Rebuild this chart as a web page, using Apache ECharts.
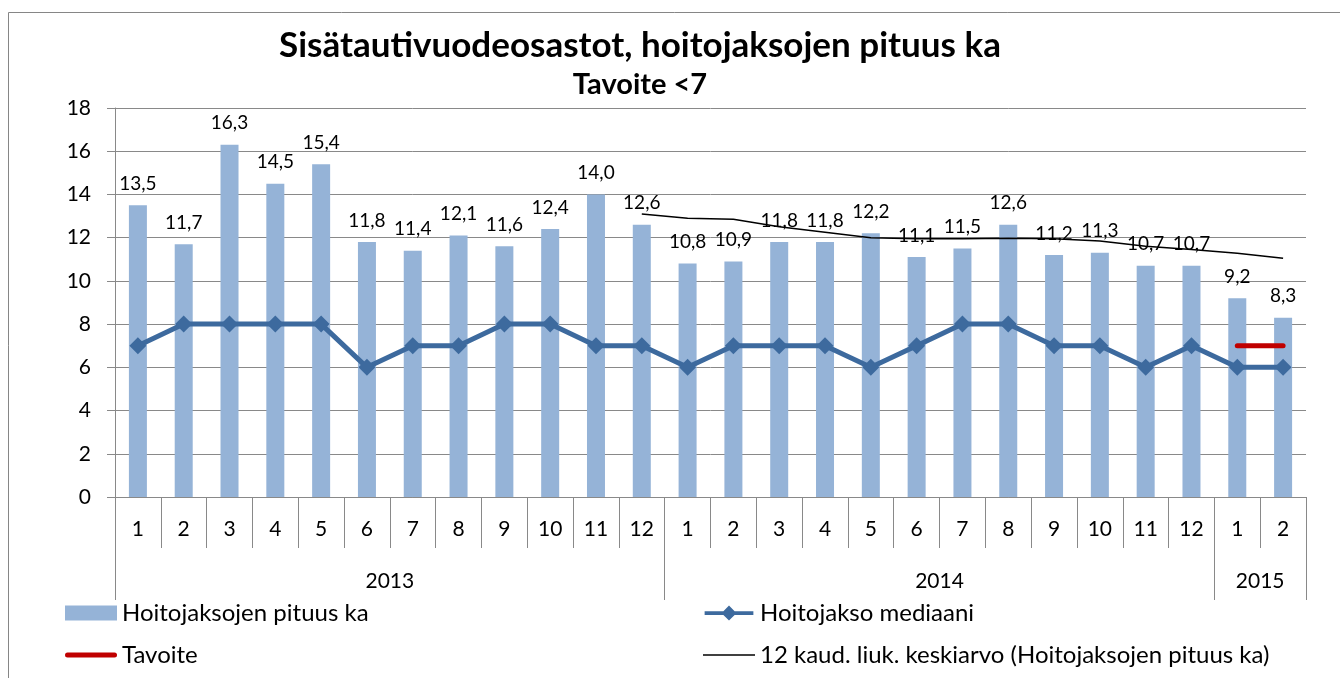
<!DOCTYPE html>
<html>
<head>
<meta charset="utf-8">
<script src="https://cdn.jsdelivr.net/npm/echarts@6/dist/echarts.min.js"></script>
<style>
  html, body { margin: 0; padding: 0; background: #fff; }
  #chart { width: 1340px; height: 678px; }
</style>
</head>
<body>
<div id="chart"></div>
<script>
// kuukaudet ja vuodet (x-akseli)
const months = ['1', '2', '3', '4', '5', '6', '7', '8', '9', '10', '11', '12',
  '1', '2', '3', '4', '5', '6', '7', '8', '9', '10', '11', '12',
  '1', '2'];
const years = ['2013', '2014', '2015'];
const yearMonths = [12, 12, 2]; // montako kuukautta kullakin vuodella

// Hoitojaksojen pituus ka (pylväät)
const avgLength = [13.5, 11.7, 16.3, 14.5, 15.4, 11.8, 11.4, 12.1, 11.6, 12.4, 14.0, 12.6,
  10.8, 10.9, 11.8, 11.8, 12.2, 11.1, 11.5, 12.6, 11.2, 11.3, 10.7, 10.7,
  9.2, 8.3];
// Hoitojakso mediaani
const median = [7, 8, 8, 8, 8, 6, 7, 7, 8, 8, 7, 7,
  6, 7, 7, 7, 6, 7, 8, 8, 7, 7, 6, 7,
  6, 6];
// Tavoite (vain 2015)
const target = [null, null, null, null, null, null, null, null, null, null, null, null,
  null, null, null, null, null, null, null, null, null, null, null, null,
  7, 7];
// 12 kaud. liukuva keskiarvo
const movingAvg = [null, null, null, null, null, null, null, null, null, null, null, 13.1,
  12.9, 12.85, 12.5, 12.25, 12.0, 11.95, 11.95, 11.97, 11.95, 11.85, 11.6, 11.45,
  11.28, 11.05];

const yTicks = { min: 0, max: 18, interval: 2 };

// vuosiryhmien rajat ja keskikohdat
let yearBounds = [0];
let yearCenters = [];
yearMonths.forEach(function (n) {
  let start = yearBounds[yearBounds.length - 1];
  yearCenters.push(start + n / 2);
  yearBounds.push(start + n);
});

let fontFamily = 'Lato, "Open Sans", sans-serif';
let gridColor = '#898989';
let legendText = { fontFamily: fontFamily, fontSize: 24, color: '#000', lineHeight: 24 };

let myChart = echarts.init(document.getElementById('chart'));
let option = {
  animation: false,
  textStyle: { fontFamily: fontFamily, color: '#000' },
  graphic: [{
    type: 'rect',
    shape: { x: 8.5, y: 12.5, width: 1400, height: 700 },
    style: { fill: 'none', stroke: '#868686', lineWidth: 1 },
    silent: true
  }],
  title: [{
    text: 'Sisätautivuodeosastot, hoitojaksojen pituus ka',
    left: 640,
    top: 28,
    textAlign: 'center',
    padding: 0,
    textStyle: { fontFamily: fontFamily, fontSize: 35, fontWeight: 'bold', color: '#000' }
  }, {
    text: 'Tavoite <7',
    left: 640,
    top: 70,
    textAlign: 'center',
    padding: 0,
    textStyle: { fontFamily: fontFamily, fontSize: 29, fontWeight: 'bold', color: '#000' }
  }],
  legend: [{
    orient: 'vertical',
    left: 65,
    top: 601,
    padding: 0,
    itemWidth: 52,
    itemHeight: 15,
    itemGap: 18,
    textStyle: legendText,
    data: [
      { name: 'Hoitojaksojen pituus ka', icon: 'rect' },
      { name: 'Tavoite', icon: 'path://M2.5,0H49.5A2.5,2.5,0,0,1,49.5,5H2.5A2.5,2.5,0,0,1,2.5,0Z' }
    ]
  }, {
    orient: 'vertical',
    left: 703,
    top: 601,
    padding: 0,
    itemWidth: 52,
    itemHeight: 15,
    itemGap: 18,
    textStyle: legendText,
    data: [
      { name: 'Hoitojakso mediaani', icon: 'path://M0,6L20,6L26,0L32,6L52,6L52,10L32,10L26,16L20,10L0,10Z' },
      { name: '12 kaud. liuk. keskiarvo (Hoitojaksojen pituus ka)', icon: 'path://M0,0H52V1.5H0Z' }
    ]
  }],
  grid: {
    left: 115,
    right: 34,
    top: 108,
    bottom: 181,
    containLabel: false
  },
  xAxis: [{
    type: 'category',
    data: months,
    boundaryGap: true,
    axisLine: { show: true, lineStyle: { color: gridColor, width: 1 } },
    axisTick: { show: true, length: 51, interval: 0, lineStyle: { color: gridColor } },
    axisLabel: { interval: 0, margin: 22, fontSize: 21, color: '#000', fontFamily: fontFamily },
    splitLine: { show: false }
  }, {
    // vuosiryhmät
    type: 'value',
    position: 'bottom',
    min: 0,
    max: months.length,
    axisLine: { show: false },
    splitLine: { show: false },
    axisTick: {
      show: true,
      length: 103,
      customValues: yearBounds,
      lineStyle: { color: gridColor }
    },
    axisLabel: {
      show: true,
      margin: 74,
      fontSize: 21,
      fontWeight: 'normal',
      color: '#000',
      fontFamily: fontFamily,
      customValues: yearCenters,
      formatter: function (v) {
        let i = yearCenters.indexOf(v);
        return i >= 0 ? years[i] : '';
      }
    }
  }],
  yAxis: [{
    type: 'value',
    min: yTicks.min,
    max: yTicks.max,
    interval: yTicks.interval,
    axisLine: { show: true, lineStyle: { color: gridColor } },
    axisTick: { show: true, length: 8, lineStyle: { color: gridColor } },
    axisLabel: { margin: 24, fontSize: 21, color: '#000', fontFamily: fontFamily },
    splitLine: { show: true, lineStyle: { color: gridColor, width: 1 } }
  }],
  series: [{
    name: 'Hoitojaksojen pituus ka',
    type: 'bar',
    barWidth: 18,
    itemStyle: { color: '#95B3D7' },
    label: {
      show: true,
      position: 'top',
      distance: 12,
      fontSize: 19,
      color: '#000',
      fontFamily: fontFamily,
      formatter: function (p) {
        return p.value.toFixed(1).replace('.', ',');
      }
    },
    data: avgLength,
    z: 1
  }, {
    name: 'Hoitojakso mediaani',
    type: 'line',
    symbol: 'diamond',
    symbolSize: 17,
    lineStyle: { color: '#3D6A9E', width: 5 },
    itemStyle: { color: '#3D6A9E' },
    data: median,
    z: 4
  }, {
    name: 'Tavoite',
    type: 'line',
    symbol: 'none',
    lineStyle: { color: '#C00000', width: 5, cap: 'round' },
    itemStyle: { color: '#C00000' },
    data: target,
    z: 3
  }, {
    name: '12 kaud. liuk. keskiarvo (Hoitojaksojen pituus ka)',
    type: 'line',
    symbol: 'none',
    lineStyle: { color: '#000', width: 1.5 },
    itemStyle: { color: '#000' },
    data: movingAvg,
    z: 2
  }]
};

myChart.setOption(option);
</script>
</body>
</html>
